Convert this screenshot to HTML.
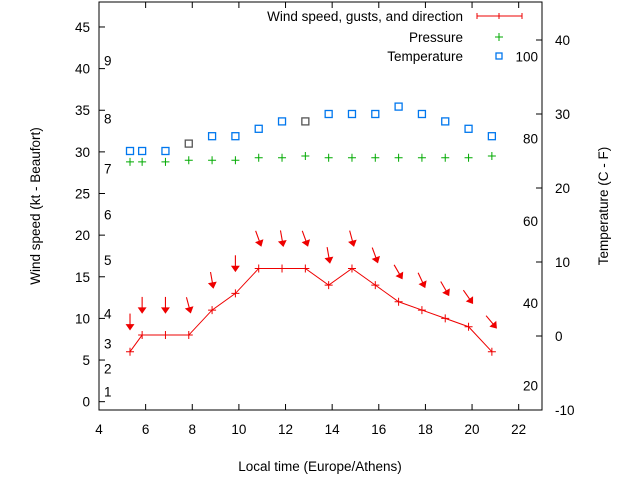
<!DOCTYPE html>
<html><head><meta charset="utf-8"><style>
body{margin:0;background:#fff}
svg{display:block;font-family:"Liberation Sans",sans-serif}
</style></head><body>
<svg id="chart" width="640" height="480" viewBox="0 0 640 480" xmlns="http://www.w3.org/2000/svg"></svg>
<script>
const times=[5.33,5.85,6.85,7.85,8.85,9.85,10.85,11.85,12.85,13.85,14.85,15.85,16.85,17.85,18.85,19.85,20.85];
const windSpeed=[6,8,8,8,11,13,16,16,16,14,16,14,12,11,10,9,6];
const gusts=[9.5,11.5,11.5,11.5,14.5,16.5,19.5,19.5,19.5,17.5,19.5,17.5,15.5,14.5,13.5,12.5,9.5];
const windDir=[0,0,0,345,350,0,340,350,340,350,345,340,330,335,330,325,320];
const pressure=[28.8,28.8,28.8,29,29,29,29.3,29.3,29.5,29.3,29.3,29.3,29.3,29.3,29.3,29.3,29.5];
const temperature=[25,25,25,26,27,27,28,29,29,30,30,30,31,30,29,28,27];
const tempGray=[0,0,0,1,0,0,0,0,1,0,0,0,0,0,0,0,0];
const xTicks=[4,6,8,10,12,14,16,18,20,22];
const yTicks=[0,5,10,15,20,25,30,35,40,45];
const cTicks=[-10,0,10,20,30,40];
const fTicks=[20,40,60,80,100];
const beaufort=[1,2,3,4,5,6,7,8,9];
const beaufortKt=[1.2,4,7,10.6,17,22.5,28,34,41];

const L=99,R=542,T=2,B=410;
const X=v=>L+(v-4)*(R-L)/19;
const Y=v=>B-(v+1)*(B-T)/49;
const YC=c=>336-c*7.4;
const svg=document.getElementById('chart');
const NS='http://www.w3.org/2000/svg';
function el(t,a,p){const e=document.createElementNS(NS,t);for(const k in a)e.setAttribute(k,a[k]);(p||svg).appendChild(e);return e;}
function txt(s,a){const e=el('text',a);e.textContent=s;return e;}

const frame=el('rect',{x:L,y:T,width:R-L,height:B-T,fill:'none',stroke:'#000','stroke-width':1});



xTicks.forEach(v=>{
  el('line',{x1:X(v),x2:X(v),y1:B,y2:B-6,stroke:'#000'});
  el('line',{x1:X(v),x2:X(v),y1:T,y2:T+6,stroke:'#000'});
  const t=txt(v,{x:X(v),y:B+24,'text-anchor':'middle','font-size':13.5});
  
  
});
yTicks.forEach(v=>{
  el('line',{x1:L,x2:L+6,y1:Y(v),y2:Y(v),stroke:'#000'});
  const t=txt(v,{x:L-9,y:Y(v)+5,'text-anchor':'end','font-size':13.5});
  
  
});
cTicks.forEach(v=>{
  el('line',{x1:R,x2:R-6,y1:YC(v),y2:YC(v),stroke:'#000'});
  const t=txt(v,{x:R+13,y:YC(v)+5,'font-size':13.5});
  
  
});
fTicks.forEach(v=>{
  const t=txt(v,{x:R-4,y:YC((v-32)*5/9)+5,'text-anchor':'end','font-size':13.5});
  
  
});
beaufort.forEach((b,i)=>{
  const t=txt(b,{x:104,y:Y(beaufortKt[i])+5,'font-size':13.5});
  
  
});

let t=txt('Local time (Europe/Athens)',{x:320,y:471,'text-anchor':'middle','font-size':13.5});


t=txt('Wind speed (kt - Beaufort)',{x:0,y:0,'text-anchor':'middle','font-size':13.5,transform:'translate(40,206) rotate(-90)'});


t=txt('Temperature (C - F)',{x:0,y:0,'text-anchor':'middle','font-size':13.5,transform:'translate(608,206) rotate(-90)'});



const line=el('polyline',{points:times.map((v,i)=>X(v)+','+Y(windSpeed[i])).join(' '),fill:'none',stroke:'#e00','stroke-width':1});


function plus(x,y,c,name){
  const g=el('path',{d:`M${x-4},${y}H${x+4}M${x},${y-4}V${y+4}`,stroke:c,'stroke-width':1});
  
  
}
times.forEach((v,i)=>plus(X(v),Y(windSpeed[i]),'#e00','wind-point'));
times.forEach((v,i)=>{
  const g=el('g',{transform:`translate(${X(v)},${Y(gusts[i])}) rotate(${windDir[i]})`});
  
  
  el('line',{x1:0,y1:-9,x2:0,y2:4,stroke:'#e00','stroke-width':1.1},g);
  el('path',{d:'M-3.5,2 L3.5,2 L0,7 Z',fill:'#e00',stroke:'#e00'},g);
});
times.forEach((v,i)=>plus(X(v),Y(pressure[i]),'#0a0','pressure-point'));
times.forEach((v,i)=>{
  const r=el('rect',{x:X(v)-3.5,y:YC(temperature[i])-3.5,width:7,height:7,fill:'none',stroke:tempGray[i]?'#555':'#07e','stroke-width':1.3});
  
  
});
const lg=el('g',{});


[['Wind speed, gusts, and direction',16],['Pressure',37],['Temperature',56]].forEach(([s,y])=>{
  const e=el('text',{x:463,y:y+5,'text-anchor':'end','font-size':13.5},lg);e.textContent=s;
});
el('path',{d:'M477,16H522M477,13V19M499,13V19M522,13V19',stroke:'#e00'},lg);
el('path',{d:'M495,37H503M499,33V41',stroke:'#0a0'},lg);
el('rect',{x:496,y:53,width:6,height:6,fill:'none',stroke:'#07e','stroke-width':1.3},lg);
</script>
</body></html>
